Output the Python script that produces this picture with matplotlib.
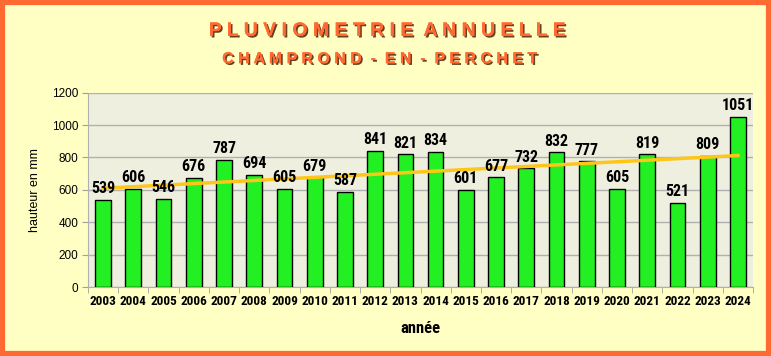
import numpy as np
import matplotlib.pyplot as plt
import matplotlib.patheffects as pe
from matplotlib.patches import Rectangle

years = [str(y) for y in range(2003, 2025)]
rain = [539, 606, 546, 676, 787, 694, 605, 679, 587, 841, 821,
        834, 601, 677, 732, 832, 777, 605, 819, 521, 809, 1051]
yticks = [0, 200, 400, 600, 800, 1000, 1200]

narrow = ['Roboto Condensed', 'Liberation Sans', 'DejaVu Sans']
plain = ['Liberation Sans', 'DejaVu Sans']
plt.rcParams['font.family'] = narrow

fig = plt.figure(figsize=(7.71, 3.56), dpi=100)
fig.patch.set_facecolor('#FFFFC4')
# orange frame around the whole picture
fig.patches.append(Rectangle((0.003, 0.006), 0.994, 0.988, transform=fig.transFigure,
                             fill=False, edgecolor='#FF6A33', linewidth=4.5))

ax = fig.add_axes([0.1141, 0.1938, 0.8626, 0.5458])
ax.set_facecolor('#EFEFDF')

x = np.arange(len(years))
ax.bar(x, rain, width=0.52, color='#22F022', edgecolor='black', linewidth=1, zorder=3)

# linear trend
coef = np.polyfit(x, rain, 1)
ax.plot(x, np.polyval(coef, x), color='#FFC61A', linewidth=2.5, zorder=4)

for xi, v in zip(x, rain):
    ax.text(xi, v + 22, str(v), ha='center', va='bottom', fontsize=11.5,
            fontweight='bold', color='black', zorder=5)

ax.set_xlim(-0.5, len(years) - 0.5)
ax.set_ylim(0, 1200)
ax.set_yticks(yticks)
ax.set_yticklabels([str(t) for t in yticks], fontsize=8.5, fontfamily=plain)
ax.set_xticks(x)
ax.set_xticklabels(years, fontsize=9.5, fontweight='bold')
ax.set_xticks(np.arange(len(years) + 1) - 0.5, minor=True)
ax.tick_params(axis='x', which='major', length=0, pad=6)
ax.tick_params(axis='x', which='minor', length=4, color='#A0A0A0')
ax.tick_params(axis='y', length=4, color='#A0A0A0', pad=3)
ax.grid(axis='y', color='#B0B0B0', linewidth=1, zorder=0)
for s in ['top', 'right']:
    ax.spines[s].set_visible(False)
for s in ['left', 'bottom']:
    ax.spines[s].set_color('#B0B0B0')

ax.set_ylabel('hauteur en mm', fontsize=9, fontfamily=plain, labelpad=8)
ax.set_xlabel('année', fontsize=12, fontweight='bold', labelpad=9)

shadow = [pe.withSimplePatchShadow(offset=(1.2, -1.2), shadow_rgbFace='#5A2A10', alpha=0.9), pe.Normal()]
fig.text(0.502, 0.912, '  '.join(' '.join(w) for w in 'PLUVIOMETRIE ANNUELLE'.split()),
         ha='center', va='center', fontsize=14, fontweight='bold', color='#FF6A33',
         fontfamily=plain, path_effects=shadow)
fig.text(0.494, 0.835, 'C H A M P R O N D  -  E N  -  P E R C H E T',
         ha='center', va='center', fontsize=11.5, fontweight='bold', color='#FF6A33',
         fontfamily=plain, path_effects=shadow)

fig.savefig('out.png', dpi=100, facecolor=fig.get_facecolor())
